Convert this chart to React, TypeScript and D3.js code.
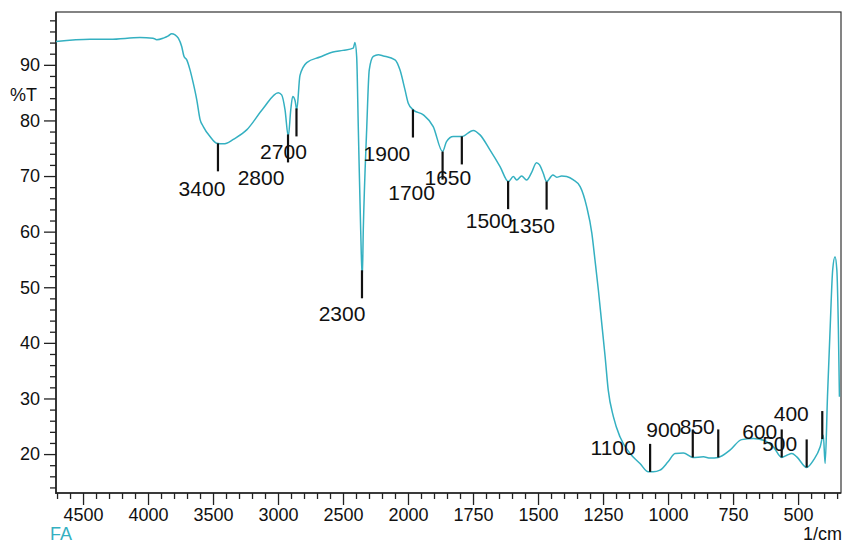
import React, { useEffect, useRef } from 'react';
import * as d3 from 'd3';

// spectrum (wavenumber 1/cm, %T)
const wavenumbers = [
  4708, 4446, 4292, 4062, 3962, 3933, 3882, 3844, 3818, 3792, 3767, 3741, 3723, 3702, 3677,
  3652, 3625, 3600, 3575, 3523, 3472, 3421, 3395, 3344, 3241, 3113, 2998, 2972, 2946, 2921,
  2902, 2887, 2869, 2856, 2831, 2779, 2677, 2577, 2500, 2421, 2408, 2395, 2382, 2364, 2352,
  2344, 2318, 2298, 2267, 2228, 2190, 2100, 2062, 2023, 1999, 1980, 1941, 1903, 1867, 1852,
  1826, 1794, 1749, 1723, 1685, 1646, 1614, 1595, 1582, 1563, 1544, 1525, 1506, 1494, 1480,
  1467, 1443, 1428, 1409, 1390, 1364, 1338, 1313, 1293, 1281, 1268, 1255, 1242, 1230, 1210,
  1185, 1146, 1108, 1076, 1057, 1031, 1000, 973, 941, 905, 864, 838, 807, 762, 717,
  672, 633, 595, 563, 543, 524, 505, 467, 441, 415, 403, 396, 387, 377, 367,
  358, 351, 345, 341,
];
const transmittance = [
  94.2, 94.6, 94.6, 94.9, 94.8, 94.5, 94.8, 95.2, 95.6, 95.4, 94.8, 93.3, 91.5, 90.9, 89.1,
  86.7, 83.7, 80.2, 78.9, 77.1, 75.9, 75.8, 75.9, 76.6, 78.3, 82.2, 85.0, 84.6, 81.9, 77.1,
  81.9, 84.3, 83.6, 81.9, 88.1, 90.4, 91.4, 92.3, 92.6, 93.0, 94.0, 91.5, 78.3, 60.3, 51.6,
  60.3, 78.3, 89.1, 91.5, 91.8, 91.6, 90.9, 89.1, 85.5, 83.1, 81.9, 81.0, 78.9, 74.4, 76.2,
  77.1, 77.1, 78.2, 77.4, 74.7, 71.7, 69.0, 69.9, 69.3, 70.0, 69.3, 70.6, 72.4, 72.0, 70.5,
  69.0, 70.2, 69.8, 70.0, 69.9, 69.3, 68.1, 64.5, 59.7, 54.9, 49.5, 43.5, 37.5, 31.5, 26.7,
  23.1, 20.1, 18.3, 16.8, 16.8, 17.1, 18.6, 20.1, 20.2, 19.4, 19.5, 19.3, 19.4, 20.7, 22.6,
  22.8, 22.5, 21.3, 19.4, 19.8, 20.1, 19.5, 17.6, 18.9, 21.3, 23.4, 18.3, 30.3, 42.3, 53.1,
  55.5, 53.1, 42.3, 30.3,
];

// peak annotations: printed label and where its marker sits
const peakLabels = ['3400', '2800', '2700', '2300', '1900', '1700', '1650', '1500', '1350',
  '1100', '900', '850', '600', '500', '400'];
const peakPositions = [3462, 2923, 2858, 2354, 1981, 1867, 1793, 1615, 1467,
  1069, 905, 807, 563, 467, 407];

const yMajor = [20, 30, 40, 50, 60, 70, 80, 90];
const xMajor = [4500, 4000, 3500, 3000, 2500, 2000, 1750, 1500, 1250, 1000, 750, 500];

// layout nudges for peak labels: marker below (1) or above (-1) the curve, text offset
const markSide = [1, 1, 1, 1, 1, 1, 1, 1, 1, -1, -1, -1, -1, -1, -1];
const labelNudge = [
  [-16, 17], [-27, 15], [-13, 15], [-20, 15], [-26, 16], [-31, 13], [-14, 13], [-19, 12], [-15, 16],
  [-37, 4], [-29, 0], [-21, -3], [-22, 2], [-27, 4], [-31, 3],
];

const W = 845;
const H = 543;
const FONT = "'Liberation Sans', Arial, Helvetica, sans-serif";
const TEAL = '#34b0c1';

const App = () => {
  const svgRef = useRef<SVGSVGElement>(null);

  useEffect(() => {
    const svg = d3.select(svgRef.current);
    svg.selectAll('*').remove();

    const left = 56, right = 841, top = 12, bottom = 493;
    // the instrument doubles the scale below 2000 1/cm
    const x = d3.scaleLinear().domain([4708, 2000, 335]).range([left, 408, right]);
    const y = d3.scaleLinear().domain([13, 99.5]).range([bottom, top]);

    const yMinor = d3.range(14, 100, 2).filter(v => !yMajor.includes(v));
    const xMinor = [...d3.range(4700, 2000, -100), ...d3.range(1950, 340, -50)]
      .filter(v => !xMajor.includes(v));

    // frame
    svg.append('rect')
      .attr('x', left).attr('y', top)
      .attr('width', right - left).attr('height', bottom - top)
      .attr('fill', 'none').attr('stroke', '#333').attr('stroke-width', 1.2);

    const styleAxis = (g: any, size: number) => {
      g.select('.domain').remove();
      g.selectAll('line').attr('stroke', '#222').attr('stroke-width', 1.3);
      g.selectAll('text').attr('font-family', FONT).attr('font-size', size).attr('fill', '#111');
    };

    const gy = svg.append('g').attr('transform', `translate(${left},0)`)
      .call(d3.axisLeft(y).tickValues(yMajor).tickSize(12).tickPadding(4).tickSizeOuter(0));
    styleAxis(gy, 18);
    const gy2 = svg.append('g').attr('transform', `translate(${left},0)`)
      .call(d3.axisLeft(y).tickValues(yMinor).tickSize(6).tickFormat(() => '').tickSizeOuter(0));
    styleAxis(gy2, 18);

    const gx = svg.append('g').attr('transform', `translate(0,${bottom})`)
      .call(d3.axisBottom(x).tickValues(xMajor).tickSize(12).tickPadding(3).tickSizeOuter(0)
        .tickFormat(d3.format('d')));
    styleAxis(gx, 18);
    const gx2 = svg.append('g').attr('transform', `translate(0,${bottom})`)
      .call(d3.axisBottom(x).tickValues(xMinor).tickSize(6).tickFormat(() => '').tickSizeOuter(0));
    styleAxis(gx2, 18);

    // axis lines a bit heavier than the frame
    svg.append('line').attr('x1', left).attr('x2', left).attr('y1', top).attr('y2', bottom + 1)
      .attr('stroke', '#222').attr('stroke-width', 1.6);
    svg.append('line').attr('x1', left).attr('x2', right).attr('y1', bottom).attr('y2', bottom)
      .attr('stroke', '#222').attr('stroke-width', 1.6);

    // labels
    svg.append('text').attr('x', 10).attr('y', 101).text('%T')
      .attr('font-family', FONT).attr('font-size', 18).attr('fill', '#111');
    svg.append('text').attr('x', 50).attr('y', 540).text('FA')
      .attr('font-family', FONT).attr('font-size', 18).attr('fill', TEAL);
    svg.append('text').attr('x', 842).attr('y', 540).attr('text-anchor', 'end').text('1/cm')
      .attr('font-family', FONT).attr('font-size', 18).attr('fill', '#111');

    // spectrum
    const pts = wavenumbers.map((w, i) => [w, transmittance[i]] as [number, number]);
    const line = d3.line<[number, number]>()
      .x(d => x(d[0]))
      .y(d => y(d[1]))
      .curve(d3.curveMonotoneX);
    svg.append('path')
      .datum(pts)
      .attr('d', line)
      .attr('fill', 'none')
      .attr('stroke', TEAL)
      .attr('stroke-width', 1.5);

    // peak markers sit on the curve
    const asc = pts.slice().reverse();
    const bis = d3.bisector((d: [number, number]) => d[0]).left;
    const valueAt = (w: number) => {
      const i = Math.max(1, Math.min(asc.length - 1, bis(asc, w)));
      const a = asc[i - 1], b = asc[i];
      return a[1] + (b[1] - a[1]) * (w - a[0]) / (b[0] - a[0]);
    };

    const marks = svg.append('g');
    peakPositions.forEach((w, i) => {
      const px = x(w);
      const py = y(valueAt(w));
      const side = markSide[i];
      const end = py + side * 28;
      marks.append('line')
        .attr('x1', px).attr('x2', px).attr('y1', py).attr('y2', end)
        .attr('stroke', '#111').attr('stroke-width', 2.2);
      const [dx, dy] = labelNudge[i];
      marks.append('text')
        .attr('x', px + dx)
        .attr('y', end + dy)
        .attr('dy', '0.35em')
        .attr('text-anchor', 'middle')
        .attr('font-family', FONT)
        .attr('font-size', 21)
        .attr('fill', '#111')
        .text(peakLabels[i]);
    });

    return () => {
      svg.selectAll('*').remove();
    };
  }, []);

  return (
    <div style={{ position: 'absolute', left: 0, top: 0 }}>
      <svg ref={svgRef} width={W} height={H} style={{ display: 'block', background: '#fff' }} />
    </div>
  );
};

export default App;
